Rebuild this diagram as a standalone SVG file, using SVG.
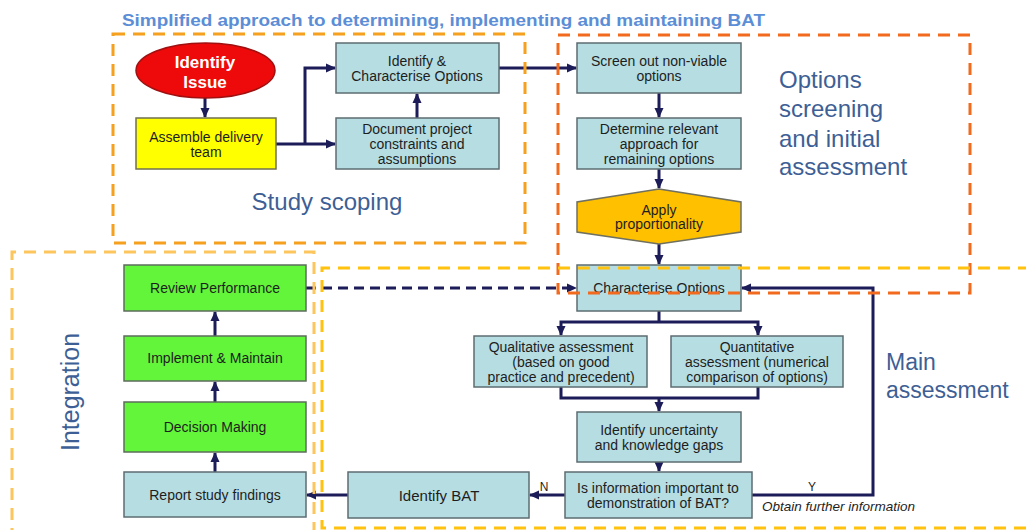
<svg xmlns="http://www.w3.org/2000/svg" width="1026" height="530" viewBox="0 0 1026 530">
<style>
text{font-family:"Liberation Sans",Arial,sans-serif}
.t{font-size:14px;fill:#1e1e1e;text-anchor:middle;dominant-baseline:central}
.teal{fill:#b5dde2;stroke:#5c6c70;stroke-width:1.5}
.green{fill:#63f53a;stroke:#5c6c5c;stroke-width:1.5}
.c{fill:none;stroke:#1c1c58;stroke-width:3}
.lab{fill:#3e5f95;font-size:24px}
.fr{fill:none;stroke-width:3;stroke-dasharray:12 8}
</style>
<defs>
<marker id="ah" markerUnits="userSpaceOnUse" markerWidth="10" markerHeight="10" refX="9" refY="5" orient="auto">
<path d="M0,0.5 L10,5 L0,9.5 z" fill="#1c1c58"/>
</marker>
</defs>
<rect width="1026" height="530" fill="#ffffff"/>
<text x="122" y="26" font-size="16" font-weight="bold" fill="#5b8ed6" textLength="643" lengthAdjust="spacingAndGlyphs">Simplified approach to determining, implementing and maintaining BAT</text>

<g id="connectors">
<path class="c" d="M205,98 V117" marker-end="url(#ah)"/>
<path class="c" d="M276,144 H335" marker-end="url(#ah)"/>
<path class="c" d="M305,144 V68 H335" marker-end="url(#ah)"/>
<path class="c" d="M417,118 V94" marker-end="url(#ah)"/>
<path class="c" d="M499,68 H576" marker-end="url(#ah)"/>
<path class="c" d="M659,93 V117" marker-end="url(#ah)"/>
<path class="c" d="M659,169 V188" marker-end="url(#ah)"/>
<path class="c" d="M659,244 V264" marker-end="url(#ah)"/>
<path class="c" d="M659,311 V322"/>
<path class="c" d="M659,322 H561 V335" marker-end="url(#ah)"/>
<path class="c" d="M659,322 H758 V335" marker-end="url(#ah)"/>
<path class="c" d="M561,387 V398 H758 V387"/>
<path class="c" d="M659,398 V411" marker-end="url(#ah)"/>
<path class="c" d="M659,462 V471" marker-end="url(#ah)"/>
<path class="c" d="M565,495 H530" marker-end="url(#ah)"/>
<path class="c" d="M752,495 H873 V288 H742" marker-end="url(#ah)"/>
<path class="c" d="M348,495 H307" marker-end="url(#ah)"/>
<path class="c" d="M215,472 V453" marker-end="url(#ah)"/>
<path class="c" d="M215,402 V382" marker-end="url(#ah)"/>
<path class="c" d="M215,336 V312" marker-end="url(#ah)"/>
<path class="c" d="M306,288 H576" stroke-dasharray="10 6" marker-end="url(#ah)"/>
<text x="544" y="487" font-size="12" fill="#1e1e1e" text-anchor="middle" dominant-baseline="central">N</text>
<text x="812" y="487" font-size="12" fill="#1e1e1e" text-anchor="middle" dominant-baseline="central">Y</text>
<text x="762" y="511" font-size="13.5" font-style="italic" fill="#1e1e1e">Obtain further information</text>
</g>

<g id="identify-issue">
<ellipse cx="205.5" cy="70.5" rx="69.5" ry="27.5" fill="#ee0a0a" stroke="#a01010" stroke-width="1.5"/>
<text class="t" x="205" y="62" style="fill:#fff;font-size:17px;font-weight:bold">Identify</text>
<text class="t" x="205" y="82" style="fill:#fff;font-size:17px;font-weight:bold">Issue</text>
</g>
<g id="assemble">
<rect x="136" y="118" width="140" height="51" fill="#ffff00" stroke="#707050" stroke-width="1.5"/>
<text class="t" x="206" y="137">Assemble delivery</text>
<text class="t" x="206" y="152">team</text>
</g>
<g id="identify-characterise">
<rect class="teal" x="336" y="43" width="163" height="50"/>
<text class="t" x="417" y="61">Identify &amp;</text>
<text class="t" x="417" y="76">Characterise Options</text>
</g>
<g id="document">
<rect class="teal" x="336" y="118" width="163" height="51"/>
<text class="t" x="417" y="129">Document project</text>
<text class="t" x="417" y="144">constraints and</text>
<text class="t" x="417" y="159">assumptions</text>
</g>
<g id="screen-out">
<rect class="teal" x="577" y="43" width="164" height="50"/>
<text class="t" x="659" y="61">Screen out non-viable</text>
<text class="t" x="659" y="76">options</text>
</g>
<g id="determine">
<rect class="teal" x="577" y="118" width="164" height="51"/>
<text class="t" x="659" y="129">Determine relevant</text>
<text class="t" x="659" y="144">approach for</text>
<text class="t" x="659" y="159">remaining options</text>
</g>
<g id="proportionality">
<polygon points="659,189 741,202 741,232 659,244 577,232 577,202" fill="#ffc000" stroke="#707060" stroke-width="1.5"/>
<text class="t" x="659" y="210">Apply</text>
<text class="t" x="659" y="224">proportionality</text>
</g>
<g id="characterise">
<rect class="teal" x="577" y="265" width="164" height="46"/>
<text class="t" x="659" y="288">Characterise Options</text>
</g>
<g id="qualitative">
<rect class="teal" x="474" y="336" width="173" height="51"/>
<text class="t" x="561" y="347">Qualitative assessment</text>
<text class="t" x="561" y="362">(based on good</text>
<text class="t" x="561" y="377">practice and precedent)</text>
</g>
<g id="quantitative">
<rect class="teal" x="671" y="336" width="172" height="51"/>
<text class="t" x="757" y="347">Quantitative</text>
<text class="t" x="757" y="362">assessment (numerical</text>
<text class="t" x="757" y="377">comparison of options)</text>
</g>
<g id="uncertainty">
<rect class="teal" x="577" y="412" width="164" height="50"/>
<text class="t" x="659" y="430">Identify uncertainty</text>
<text class="t" x="659" y="445">and knowledge gaps</text>
</g>
<g id="important">
<rect class="teal" x="565" y="472" width="187" height="46"/>
<text class="t" x="658" y="488">Is information important to</text>
<text class="t" x="658" y="503">demonstration of BAT?</text>
</g>
<g id="identify-bat">
<rect class="teal" x="348" y="472" width="181" height="46"/>
<text class="t" x="439" y="495" style="font-size:15px">Identify BAT</text>
</g>
<g id="report">
<rect class="teal" x="124" y="472" width="182" height="45"/>
<text class="t" x="215" y="495">Report study findings</text>
</g>
<g id="decision">
<rect class="green" x="124" y="402" width="182" height="50"/>
<text class="t" x="215" y="427">Decision Making</text>
</g>
<g id="implement">
<rect class="green" x="124" y="336" width="182" height="45"/>
<text class="t" x="215" y="358">Implement &amp; Maintain</text>
</g>
<g id="review">
<rect class="green" x="124" y="265" width="182" height="46"/>
<text class="t" x="215" y="288">Review Performance</text>
</g>

<g id="regions">
<rect class="fr" x="113" y="34" width="412" height="209" stroke="#f5a01f"/>
<text class="lab" x="327" y="210" text-anchor="middle">Study scoping</text>
<rect class="fr" x="558" y="35" width="412" height="258" stroke="#f26a1d"/>
<text class="lab" x="779" y="88">Options</text>
<text class="lab" x="779" y="117">screening</text>
<text class="lab" x="779" y="147">and initial</text>
<text class="lab" x="779" y="175">assessment</text>
<path class="fr" d="M1030,268 H322 V528 H1030" stroke="#ffc20e"/>
<text class="lab" x="886" y="370" style="font-size:23px">Main</text>
<text class="lab" x="886" y="398" style="font-size:23px">assessment</text>
<path class="fr" d="M12,540 V252 H314 V540" stroke="#fcc55e"/>
<text class="lab" transform="translate(79,392) rotate(-90)" text-anchor="middle" style="font-size:25px">Integration</text>
</g>
</svg>
